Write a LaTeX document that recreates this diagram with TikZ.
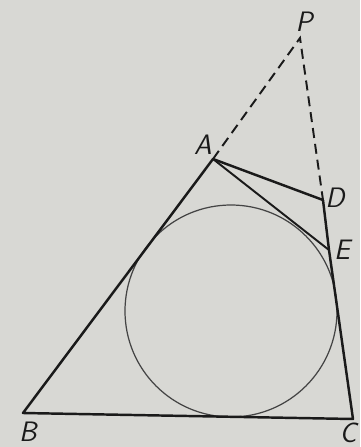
\documentclass[tikz,border=0pt]{standalone}
\usepackage{tikz}
\usetikzlibrary{calc}
\definecolor{paper}{HTML}{D8D8D4}
\definecolor{inkblack}{HTML}{1A1A1A}
\definecolor{inkgray}{HTML}{444444}
\begin{document}
\begin{tikzpicture}[
  x=0.02cm, y=-0.02cm,
  edge/.style={draw=inkblack, line width=1.4pt, line join=round},
  hidden/.style={draw=inkblack, line width=1.1pt, dash pattern=on 0.2cm off 0.12cm},
  incircle/.style={draw=inkgray, line width=0.7pt},
  lbl/.style={font=\fontsize{16}{18}\selectfont\sffamily\itshape, text=inkblack, inner sep=0pt},
]
\fill[paper] (0,0) rectangle (360,447);
\useasboundingbox (0,0) rectangle (360,447);
% points
\coordinate (P) at (300,38);
\coordinate (A) at (213,159);
\coordinate (B) at (23,413);
\coordinate (C) at (353,419);
\coordinate (D) at (323,200);
\coordinate (E) at (329,250);
\coordinate (O) at (231,311);
% circle
\draw[incircle] (O) circle (106);
% sides
\draw[edge] (D)--(A)--(B)--(C)--(E)--(D);
\draw[edge, line width=1.1pt] (A)--(E);
\draw[hidden] (A)--(P)--(D);
% labels
\node[lbl] (lA) at (203,145) {A};
\node[lbl] (lP) at (304,22) {P};
\node[lbl] (lD) at (335,198) {D};
\node[lbl] (lE) at (342,250) {E};
\node[lbl] (lB) at (28,432) {B};
\node[lbl] (lC) at (348,433) {C};
\end{tikzpicture}
\end{document}
